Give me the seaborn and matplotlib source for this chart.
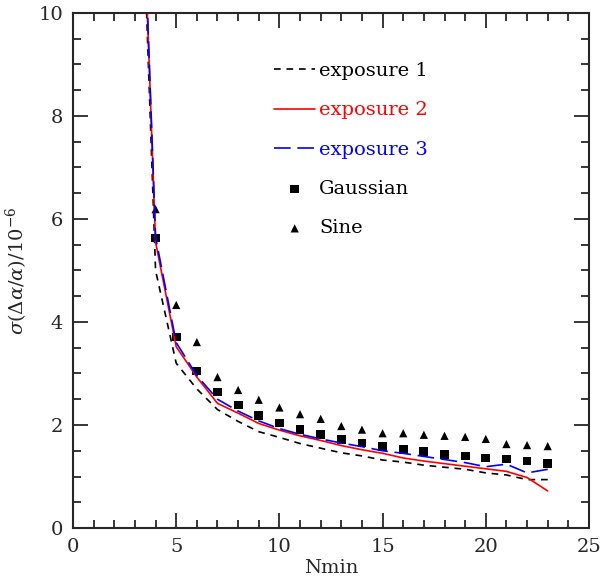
import numpy as np
import pandas as pd
import matplotlib
matplotlib.use("Agg")
import matplotlib.pyplot as plt
from matplotlib.ticker import MultipleLocator
import seaborn as sns

# values
nmin_lines = [3, 4, 5, 6, 7, 8, 9, 10, 11, 12, 13, 14, 15, 16, 17, 18, 19, 20, 21, 22, 23]
exposure1 = [16.5, 5.0, 3.2, 2.7, 2.3, 2.07, 1.87, 1.76, 1.64, 1.55, 1.46, 1.40, 1.32,
             1.28, 1.22, 1.18, 1.14, 1.07, 1.03, 0.94, 0.94]
exposure2 = [16.7, 5.55, 3.52, 2.93, 2.42, 2.23, 2.03, 1.90, 1.79, 1.70, 1.60, 1.52, 1.45,
             1.36, 1.30, 1.25, 1.20, 1.15, 1.10, 0.98, 0.72]
exposure3 = [16.8, 5.65, 3.6, 2.96, 2.50, 2.27, 2.08, 1.93, 1.82, 1.73, 1.65, 1.58, 1.50,
             1.45, 1.39, 1.33, 1.27, 1.19, 1.24, 1.07, 1.14]

nmin_pts = [4, 5, 6, 7, 8, 9, 10, 11, 12, 13, 14, 15, 16, 17, 18, 19, 20, 21, 22, 23]
gaussian = [5.63, 3.71, 3.05, 2.64, 2.39, 2.19, 2.04, 1.92, 1.82, 1.72, 1.65, 1.59,
            1.53, 1.48, 1.42, 1.40, 1.36, 1.34, 1.30, 1.26]
sine = [6.19, 4.33, 3.61, 2.93, 2.68, 2.49, 2.34, 2.21, 2.12, 1.98, 1.91, 1.84,
        1.84, 1.81, 1.79, 1.77, 1.73, 1.63, 1.61, 1.59]

sns.set_style("ticks")
plt.rcParams['font.family'] = ['DejaVu Serif']
plt.rcParams['mathtext.fontset'] = 'dejavuserif'

# draw the curves from the right end so the off-scale point comes last
df = pd.DataFrame({"Nmin": nmin_lines, "exposure 1": exposure1,
                   "exposure 2": exposure2, "exposure 3": exposure3})
df = df.iloc[::-1].reset_index(drop=True)
pts = pd.DataFrame({"Nmin": nmin_pts, "Gaussian": gaussian, "Sine": sine})

fig = plt.figure(figsize=(6.01, 5.88), dpi=100)
ax = fig.add_axes([0.1215, 0.102, 0.8585, 0.876])

line_styles = {"exposure 1": ("black", (0, (4, 3.5))),
               "exposure 2": ("red", "-"),
               "exposure 3": ("blue", (0, (10, 4)))}
for name, (col, ls) in line_styles.items():
    sns.lineplot(data=df, x="Nmin", y=name, ax=ax, color=col, lw=1.2,
                 errorbar=None, sort=False, linestyle=ls, label=name)
sns.scatterplot(data=pts, x="Nmin", y="Gaussian", ax=ax, marker="s", color="black",
                s=40, edgecolor="none", label="Gaussian")
sns.scatterplot(data=pts, x="Nmin", y="Sine", ax=ax, marker="^", color="black",
                s=35, edgecolor="none", label="Sine")

ax.set_xlim(0, 25)
ax.set_ylim(0, 10)
ax.xaxis.set_major_locator(MultipleLocator(5))
ax.xaxis.set_minor_locator(MultipleLocator(1))
ax.yaxis.set_major_locator(MultipleLocator(2))
ax.yaxis.set_minor_locator(MultipleLocator(0.5))
ax.tick_params(which="both", direction="in", top=True, right=True,
               width=1.3, labelsize=14, pad=7)
ax.tick_params(which="major", length=11)
ax.tick_params(which="minor", length=6)
for sp in ax.spines.values():
    sp.set_linewidth(1.5)

ax.set_xlabel("Nmin", fontsize=14, labelpad=2)
ax.set_ylabel(r"$\sigma(\Delta\alpha/\alpha)/10^{-6}$", fontsize=14, labelpad=6)

leg = ax.legend(loc="upper left", bbox_to_anchor=(0.375, 0.92), frameon=False,
                fontsize=14, handlelength=2.1, handletextpad=0.2,
                labelspacing=1.1, borderaxespad=0)
for txt, col in zip(leg.get_texts(), ["black", "red", "blue", "black", "black"]):
    txt.set_color(col)

plt.savefig("out.png", dpi=100)
